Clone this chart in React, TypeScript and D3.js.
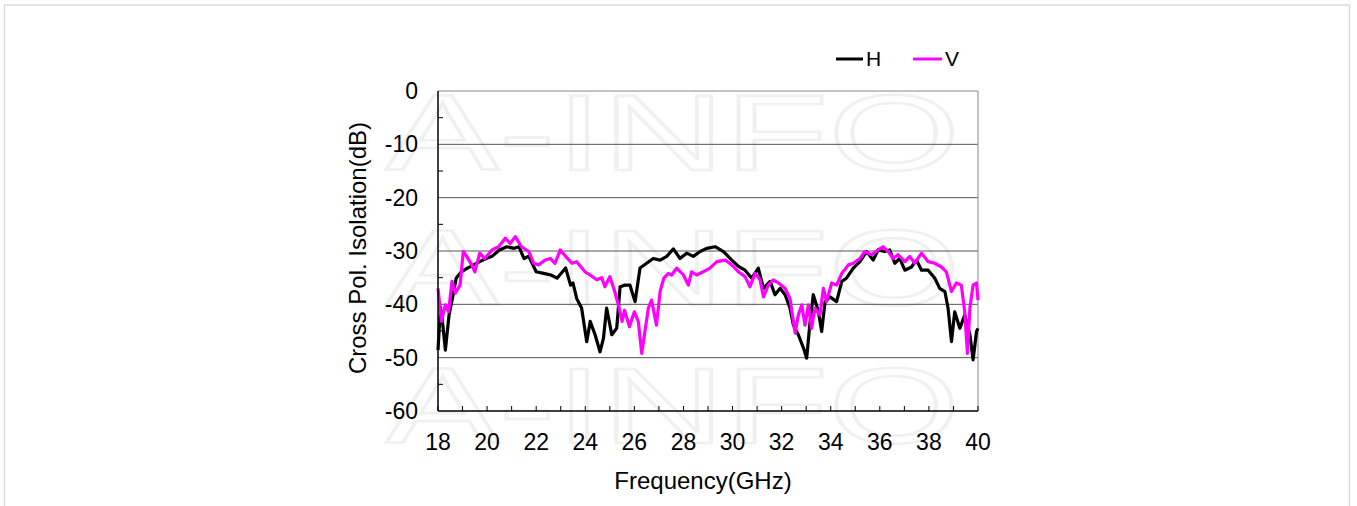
import React from 'react';
import * as d3 from 'd3';

const hFreq = [18.0, 18.1, 18.2, 18.3, 18.45, 18.6, 18.74, 18.95, 19.2, 19.45, 19.7, 19.96, 20.2, 20.5, 20.8, 21.1, 21.3, 21.5, 21.7, 22.0, 22.3, 22.6, 22.85, 23.2, 23.4, 23.5, 23.65, 23.85, 24.06, 24.2, 24.4, 24.6, 24.74, 24.87, 25.08, 25.28, 25.42, 25.62, 25.82, 26.03, 26.23, 26.5, 26.77, 27.05, 27.32, 27.59, 27.86, 28.13, 28.4, 28.68, 28.95, 29.29, 29.63, 29.97, 30.24, 30.51, 30.78, 31.05, 31.26, 31.53, 31.73, 31.94, 32.14, 32.34, 32.48, 32.68, 32.89, 33.02, 33.16, 33.29, 33.5, 33.63, 33.77, 33.97, 34.24, 34.45, 34.64, 34.92, 35.19, 35.46, 35.73, 35.93, 36.2, 36.4, 36.61, 36.81, 37.02, 37.29, 37.49, 37.7, 37.97, 38.24, 38.44, 38.65, 38.78, 38.92, 39.05, 39.26, 39.46, 39.67, 39.8, 39.94, 40.0];
const hLoss = [-48.6, -40.5, -44.0, -48.6, -42.0, -38.6, -35.1, -33.9, -33.2, -32.6, -32.0, -31.4, -31.0, -29.8, -29.2, -29.5, -29.2, -31.4, -31.0, -33.9, -34.2, -34.5, -35.1, -33.2, -36.4, -36.0, -38.9, -40.7, -47.0, -43.2, -45.7, -48.9, -46.4, -40.7, -45.7, -44.5, -36.7, -36.4, -36.4, -39.5, -33.2, -32.3, -31.4, -31.7, -31.0, -29.6, -31.4, -30.4, -31.0, -30.1, -29.5, -29.2, -30.1, -31.7, -32.9, -33.6, -35.1, -33.2, -37.0, -35.7, -38.2, -37.0, -38.2, -40.7, -43.9, -45.7, -48.2, -50.1, -43.2, -38.2, -41.4, -45.1, -39.5, -38.6, -39.5, -35.7, -35.1, -33.2, -32.0, -30.1, -31.7, -29.8, -30.1, -29.8, -32.3, -31.4, -33.6, -33.0, -31.7, -33.6, -33.6, -35.1, -37.0, -37.6, -40.7, -47.0, -41.4, -44.5, -42.0, -45.7, -50.4, -45.1, -44.5];

const vFreq = [18.0, 18.14, 18.3, 18.43, 18.57, 18.7, 18.9, 19.03, 19.17, 19.37, 19.5, 19.7, 19.9, 20.2, 20.47, 20.74, 20.94, 21.15, 21.4, 21.7, 21.9, 22.1, 22.37, 22.57, 22.77, 22.98, 23.2, 23.46, 23.65, 23.99, 24.2, 24.47, 24.67, 24.8, 25.0, 25.2, 25.35, 25.5, 25.6, 25.8, 26.0, 26.16, 26.3, 26.43, 26.57, 26.7, 26.9, 27.05, 27.2, 27.39, 27.52, 27.73, 28.0, 28.2, 28.33, 28.54, 28.8, 29.08, 29.36, 29.7, 29.97, 30.24, 30.51, 30.71, 30.92, 31.12, 31.26, 31.46, 31.66, 31.87, 32.14, 32.34, 32.55, 32.68, 32.82, 32.95, 33.09, 33.22, 33.36, 33.56, 33.7, 33.83, 34.04, 34.24, 34.45, 34.72, 34.92, 35.19, 35.39, 35.66, 35.93, 36.13, 36.34, 36.54, 36.74, 37.02, 37.22, 37.42, 37.7, 37.97, 38.24, 38.51, 38.71, 38.92, 39.12, 39.32, 39.46, 39.57, 39.67, 39.8, 39.94, 40.0];
const vLoss = [-37.0, -43.2, -40.1, -41.4, -35.7, -37.9, -36.4, -30.1, -31.0, -32.6, -33.9, -30.4, -31.4, -29.8, -29.2, -27.6, -28.6, -27.3, -29.2, -30.1, -32.3, -32.6, -31.7, -31.4, -32.3, -29.8, -31.0, -32.3, -32.0, -33.9, -34.5, -35.4, -35.0, -36.7, -34.8, -37.6, -40.1, -43.2, -41.1, -44.2, -41.4, -43.2, -49.2, -45.1, -40.7, -39.2, -43.9, -37.6, -35.1, -34.2, -34.5, -33.2, -34.5, -36.4, -33.9, -34.5, -33.9, -33.2, -32.0, -31.7, -32.6, -33.9, -34.8, -36.7, -34.2, -35.4, -38.6, -36.4, -35.4, -36.0, -37.0, -38.9, -45.4, -42.0, -40.1, -43.9, -40.1, -44.5, -40.7, -42.0, -37.0, -39.5, -36.0, -36.4, -34.2, -32.6, -32.3, -31.4, -30.1, -30.7, -29.8, -29.2, -30.1, -31.4, -30.7, -32.0, -31.0, -32.3, -30.4, -32.0, -32.3, -33.0, -33.9, -37.6, -36.0, -36.4, -41.4, -49.2, -40.7, -36.4, -36.0, -39.2];

const xTicks = [18, 20, 22, 24, 26, 28, 30, 32, 34, 36, 38, 40];
const yTicks = [0, -10, -20, -30, -40, -50, -60];

const W = 1357;
const H = 506;
const plot = { left: 438, right: 978, top: 91, bottom: 411 };
const font = "'Liberation Sans', Arial, sans-serif";

export default function App() {
  const x = d3.scaleLinear().domain([18, 40]).range([plot.left, plot.right]);
  const y = d3.scaleLinear().domain([-60, 0]).range([plot.bottom, plot.top]);

  const line = d3.line<[number, number]>()
    .x(d => x(d[0]))
    .y(d => y(d[1]));

  const hPts = hFreq.map((f, i) => [f, hLoss[i]] as [number, number]);
  const vPts = vFreq.map((f, i) => [f, vLoss[i]] as [number, number]);

  const minorX = d3.range(18, 41, 1);
  const minorY = d3.range(-55, 0, 10);

  return (
    <svg width={W} height={H} style={{ position: 'absolute', left: 0, top: 0 }} fontFamily={font}>
      <rect x={4.5} y={5} width={1345} height={520} fill="#fff" stroke="#dcdcdc" strokeWidth={1.5} />

      {/* watermark */}
      <g pointerEvents="none">
        {[170, 305, 443].map(b => (
          <text key={b} x={386} y={b} fontSize={108} fill="none" stroke="#f0f0f0" strokeWidth={2.5}
            textLength={574} lengthAdjust="spacingAndGlyphs">A-INFO</text>
        ))}
      </g>

      {/* gridlines */}
      {yTicks.filter(t => t !== 0 && t !== -60).map(t => (
        <line key={t} x1={plot.left} x2={plot.right} y1={y(t)} y2={y(t)} stroke="#555" strokeWidth={1} />
      ))}
      <line x1={plot.left} x2={plot.right} y1={plot.top} y2={plot.top} stroke="#888" strokeWidth={1} />
      <line x1={plot.right} x2={plot.right} y1={plot.top} y2={plot.bottom} stroke="#888" strokeWidth={1} />

      {/* ticks */}
      {minorX.map(t => (
        <line key={t} x1={x(t)} x2={x(t)} y1={plot.bottom} y2={plot.bottom - 5} stroke="#000" strokeWidth={1} />
      ))}
      {minorY.map(t => (
        <line key={t} x1={plot.left} x2={plot.left + 5} y1={y(t)} y2={y(t)} stroke="#000" strokeWidth={1} />
      ))}

      {/* series */}
      <path d={line(hPts) || ''} fill="none" stroke="#000" strokeWidth={3.2} strokeLinejoin="round" />
      <path d={line(vPts) || ''} fill="none" stroke="#ff00ff" strokeWidth={3.2} strokeLinejoin="round" />

      {/* axes */}
      <line x1={plot.left} x2={plot.left} y1={plot.top} y2={plot.bottom} stroke="#000" strokeWidth={1.5} />
      <line x1={plot.left} x2={plot.right} y1={plot.bottom} y2={plot.bottom} stroke="#000" strokeWidth={1.5} />

      {yTicks.map(t => (
        <text key={t} x={418} y={y(t) + 8} fontSize={23} textAnchor="end" fill="#000">{t}</text>
      ))}
      {xTicks.map(t => (
        <text key={t} x={x(t)} y={450} fontSize={23} textAnchor="middle" fill="#000">{t}</text>
      ))}

      <text x={703} y={489} fontSize={24} textAnchor="middle" fill="#000">Frequency(GHz)</text>
      <text transform={`translate(366,${(plot.top + plot.bottom) / 2 - 3}) rotate(-90)`} fontSize={24}
        textAnchor="middle" fill="#000">Cross Pol. Isolation(dB)</text>

      {/* legend */}
      <line x1={836} x2={863} y1={59} y2={59} stroke="#000" strokeWidth={3} />
      <text x={866} y={66} fontSize={21} fill="#000">H</text>
      <line x1={913} x2={942} y1={59} y2={59} stroke="#ff00ff" strokeWidth={3} />
      <text x={945} y={66} fontSize={21} fill="#000">V</text>
    </svg>
  );
}
